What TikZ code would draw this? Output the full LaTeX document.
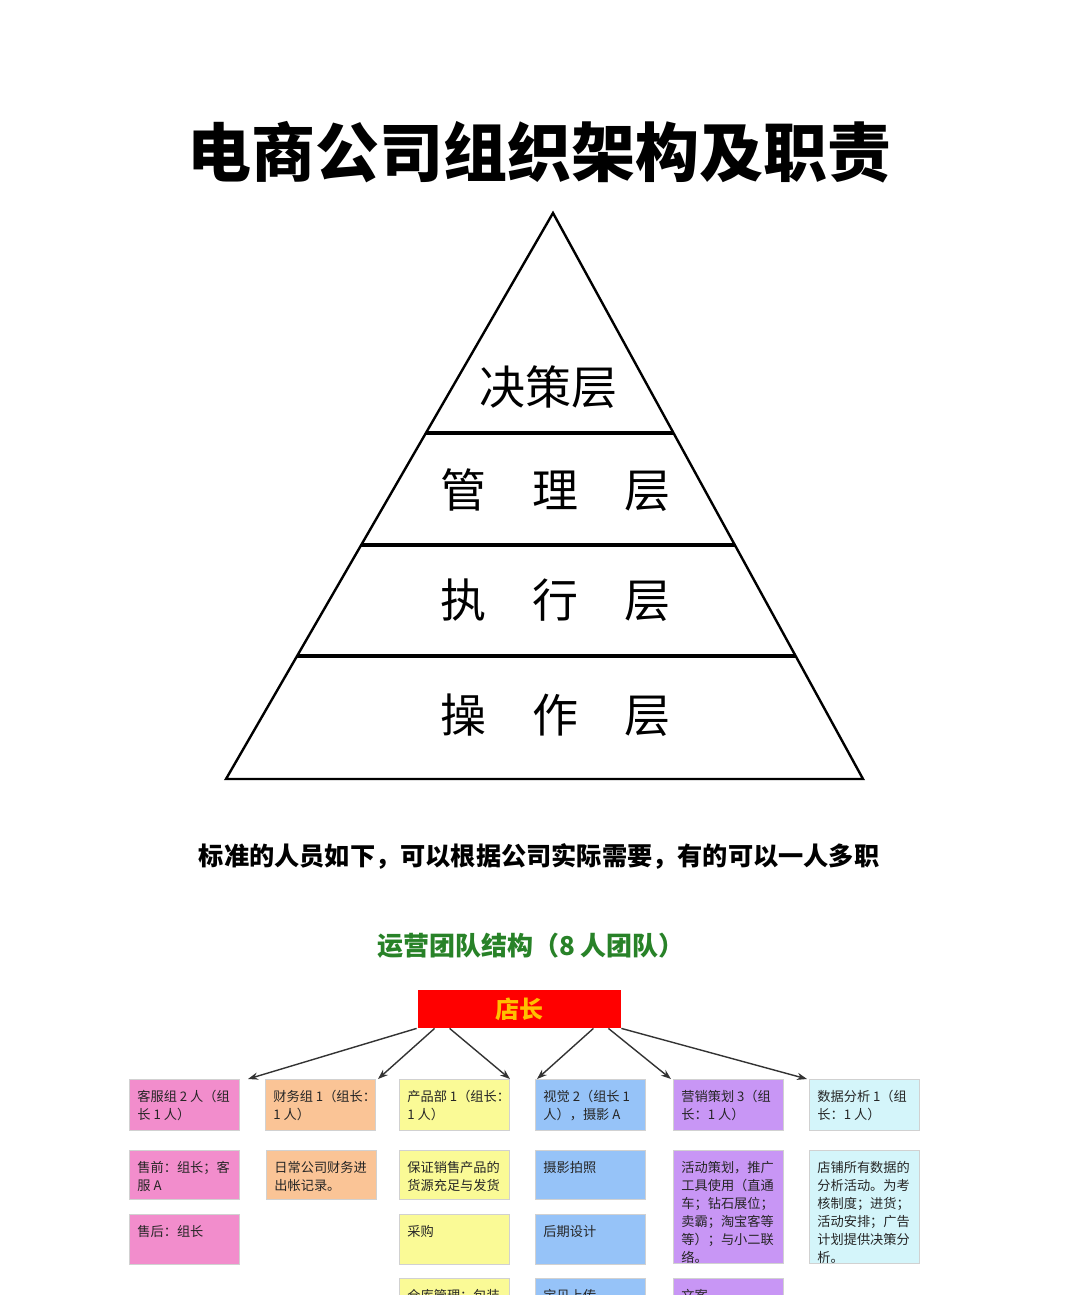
\documentclass[tikz,border=0pt]{standalone}
\usepackage{fontspec}
\setmainfont{Noto Sans CJK SC}
\usetikzlibrary{arrows.meta, calc, positioning}
\definecolor{cardpink}{RGB}{242,141,204}
\definecolor{cardorange}{RGB}{250,196,150}
\definecolor{cardyellow}{RGB}{250,250,150}
\definecolor{cardblue}{RGB}{150,195,248}
\definecolor{cardpurple}{RGB}{200,150,245}
\definecolor{cardcyan}{RGB}{212,245,250}
\definecolor{teamgreen}{RGB}{40,130,40}
\definecolor{bossorange}{RGB}{255,192,0}

\begin{document}
\begin{tikzpicture}[
  x=0.5pt, y=-0.5pt,
  every node/.style={inner sep=0pt},
  layer/.style={font=\fontsize{23pt}{23pt}\selectfont},
  card/.style={draw=black!18, line width=0.5pt, anchor=north west, minimum width=55pt},
  cardtext/.style={anchor=north west, align=left, font=\fontsize{6.6pt}{9pt}\selectfont, text=black!85},
  link/.style={-{Stealth[length=5pt,width=3.6pt]}, line width=0.7pt, black!80},
  divider/.style={line width=1.8pt}
]
  % Page
  \useasboundingbox (0,0) rectangle (1080,1295);
  \clip (0,0) rectangle (1080,1295);
  \fill[white] (0,0) rectangle (1080,1295);

  % Title
  \node[font=\fontsize{32pt}{32pt}\selectfont\bfseries] (title) at (539,152) {电商公司组织架构及职责};

  % Pyramid
  \coordinate (apex) at (553,213);
  \coordinate (bl) at (226,779);
  \coordinate (br) at (863,779);
  \draw[line width=1.2pt] (apex) -- (bl) -- (br) -- cycle;
  \foreach \t in {0.389,0.587,0.783} {
    \draw[divider] ($(apex)!\t!(bl)$) -- ($(apex)!\t!(br)$);
  }
  \node[layer] (juece) at (548,387) {决策层};
  \node[layer] (guanli) at (555,490) {管\hspace{1em}理\hspace{1em}层};
  \node[layer] (zhixing) at (555,600) {执\hspace{1em}行\hspace{1em}层};
  \node[layer] (caozuo) at (555,715) {操\hspace{1em}作\hspace{1em}层};

  % Note
  \node[font=\fontsize{12.6pt}{12.6pt}\selectfont\bfseries] (note) at (539,856) {标准的人员如下，可以根据公司实际需要，有的可以一人多职};

  % Team chart
  \node[font=\fontsize{13pt}{13pt}\selectfont\bfseries, text=teamgreen] (team) at (531,946) {运营团队结构（8 人团队）};
  \node[fill=red, minimum width=101.5pt, minimum height=19pt,
        font=\fontsize{12pt}{12pt}\selectfont\bfseries, text=bossorange] (boss) at (519.5,1009) {店长};

  % Cards
  \foreach \name/\x/\y/\h/\col/\txt in {
    kefu/129/1079/51/cardpink/{客服组 2 人（组\\长 1 人）},
    caiwu/265/1079/51/cardorange/{财务组 1（组长：\\1 人）},
    chanpin/399/1079/51/cardyellow/{产品部 1（组长：\\1 人）},
    shijue/535/1079/51/cardblue/{视觉 2（组长 1\\人），摄影 A},
    yingxiao/673/1079/51/cardpurple/{营销策划 3（组\\长：1 人）},
    shuju/809/1079/51/cardcyan/{数据分析 1（组\\长：1 人）},
    kefu2/129/1150/49/cardpink/{售前：组长；客\\服 A},
    caiwu2/266/1150/49/cardorange/{日常公司财务进\\出帐记录。},
    chanpin2/399/1150/49/cardyellow/{保证销售产品的\\货源充足与发货},
    shijue2/535/1150/49/cardblue/{摄影拍照},
    yingxiao2/673/1150/113/cardpurple/{活动策划，推广\\工具使用（直通\\车；钻石展位；\\卖霸；淘宝客等\\等）；与小二联\\络。},
    shuju2/809/1150/113/cardcyan/{店铺所有数据的\\分析活动。为考\\核制度；进货；\\活动安排；广告\\计划提供决策分\\析。},
    kefu3/129/1214/50/cardpink/{售后：组长},
    chanpin3/399/1214/50/cardyellow/{采购},
    shijue3/535/1214/50/cardblue/{后期设计},
    chanpin4/399/1278/50/cardyellow/{仓库管理：包装},
    shijue4/535/1278/50/cardblue/{宝贝上传},
    yingxiao3/673/1278/50/cardpurple/{文案}} {
    \node[card, fill=\col, minimum height=\h*0.5pt] (\name) at (\x,\y) {};
    \node[cardtext] (\name-t) at ([xshift=4pt,yshift=-5.5pt]\name.north west) {\txt};
  }

  % Arrows from the shop manager
  \foreach \sa/\sx/\tn/\ta/\tx in {
    south west/-0.5/kefu/north east/4,
    south west/8.5/caiwu/north east/1,
    south west/16/chanpin/north east/0,
    south east/-14/shijue/north west/1,
    south east/-6.5/yingxiao/north west/-1,
    south east/0/shuju/north west/-1} {
    \draw[link] ([xshift=\sx pt]boss.\sa) -- ([xshift=\tx pt]\tn.\ta);
  }
\end{tikzpicture}
\end{document}
